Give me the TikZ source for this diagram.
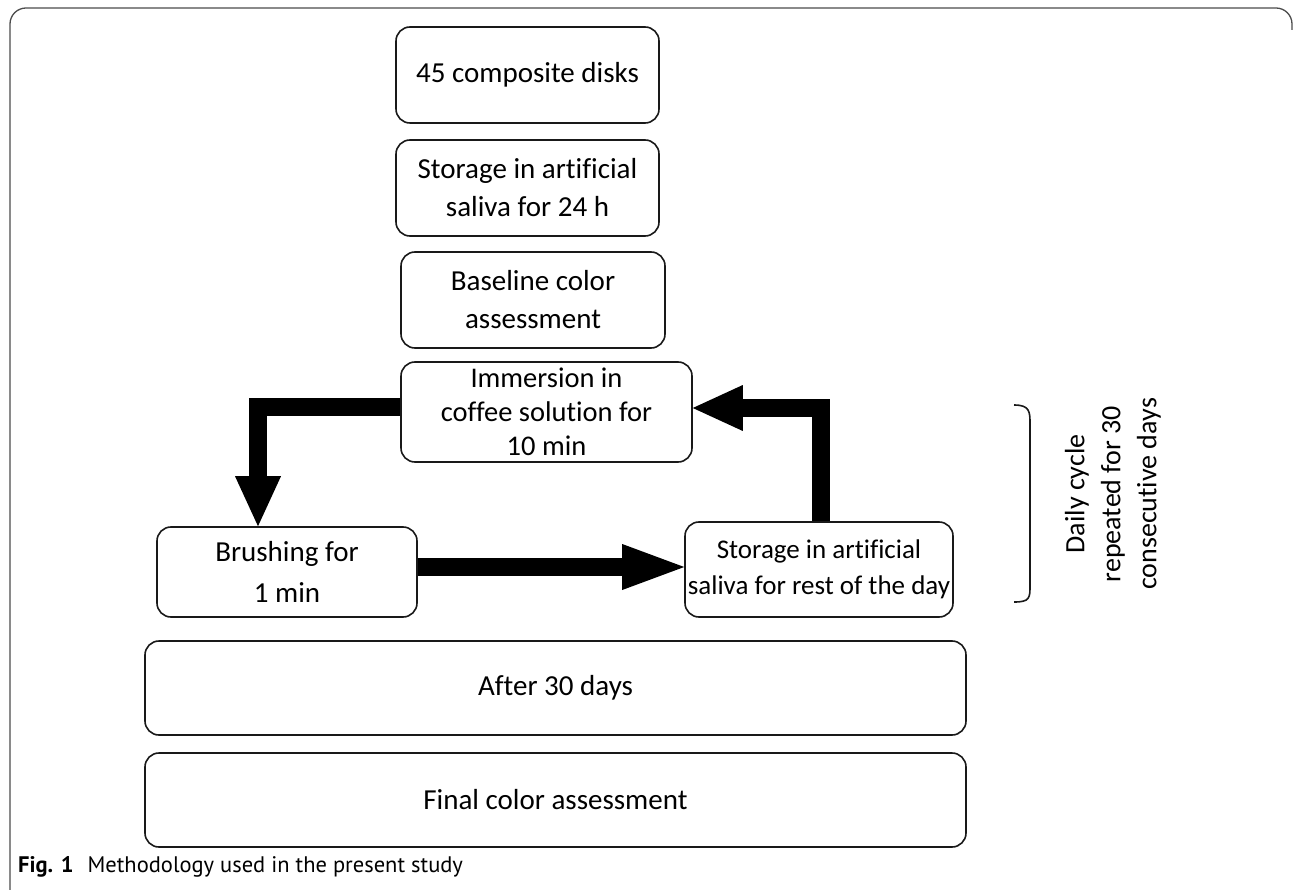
\documentclass[tikz,border=0pt]{standalone}
\usepackage{fontspec}
\setmainfont{Carlito}[Ligatures=NoCommon]
\newfontfamily\capfont{PT Sans}
\usetikzlibrary{arrows.meta}

\begin{document}
\begin{tikzpicture}[x=1pt,y=-1pt,
  box/.style={draw=black!90, rounded corners=14pt, line width=1.6pt, align=center, inner sep=0pt, font=\fontsize{29}{38}\selectfont},
  flow/.style={line width=18pt, -{Triangle[length=50pt,width=46pt,line width=0pt]}}]
  \useasboundingbox (0,0) rectangle (1295,890);

  % Moldura
  \draw[line width=1.3pt, black!70, rounded corners=16pt] (10,890) -- (10,8) -- (1292,8) -- (1292,30);

  % Nós
  \node[box, minimum width=263pt, minimum height=96pt] (disks) at (527.5,75) {45 composite disks};
  \node[box, minimum width=263pt, minimum height=96pt] (saliva) at (527.5,188) {Storage in artificial\\saliva for 24 h};
  \node[box, minimum width=264pt, minimum height=96pt] (baseline) at (533,300) {Baseline color\\assessment};
  \node[box, minimum width=291pt, minimum height=100pt, font=\fontsize{28.5}{34}\selectfont] (immersion) at (546.5,412) {Immersion in\\coffee solution for\\10 min};
  \node[box, minimum width=260pt, minimum height=90pt, font=\fontsize{29}{41}\selectfont] (brushing) at (287,572) {Brushing for\\1 min};
  \node[box, minimum width=268pt, minimum height=95pt, font=\fontsize{27}{36}\selectfont] (rest) at (819,569.5) {Storage in artificial\\saliva for rest of the day};
  \node[box, minimum width=821pt, minimum height=94pt] (after) at (555.5,688) {After 30 days};
  \node[box, minimum width=821pt, minimum height=94pt] (final) at (555.5,800) {Final color assessment};

  % Ciclo
  \draw[flow] ([yshift=5pt]immersion.west) -| ([xshift=-29pt]brushing.north);
  \draw[flow, -{Triangle[length=62pt,width=46pt,line width=0pt]}] ([yshift=5pt]brushing.east) -- ([yshift=2.5pt]rest.west);
  \draw[flow] ([xshift=2pt]rest.north) |- ([yshift=4pt]immersion.east);

  % Chave
  \draw[line width=1.6pt, black!90] (1014,405) .. controls (1030,405) and (1030,412) .. (1030,424) -- (1030,585) .. controls (1030,598) and (1030,602) .. (1014,602);
  \node[rotate=90, align=center, font=\fontsize{28}{36}\selectfont] (cycle) at (1113,494) {Daily cycle\\repeated for 30\\consecutive days};

  % Legenda
  \node[anchor=base west, inner sep=0pt, font=\capfont\fontsize{22.5}{26}\selectfont] (caption) at (18,872) {\textbf{Fig. 1}\hspace{14pt}Methodology used in the present study};
\end{tikzpicture}
\end{document}
